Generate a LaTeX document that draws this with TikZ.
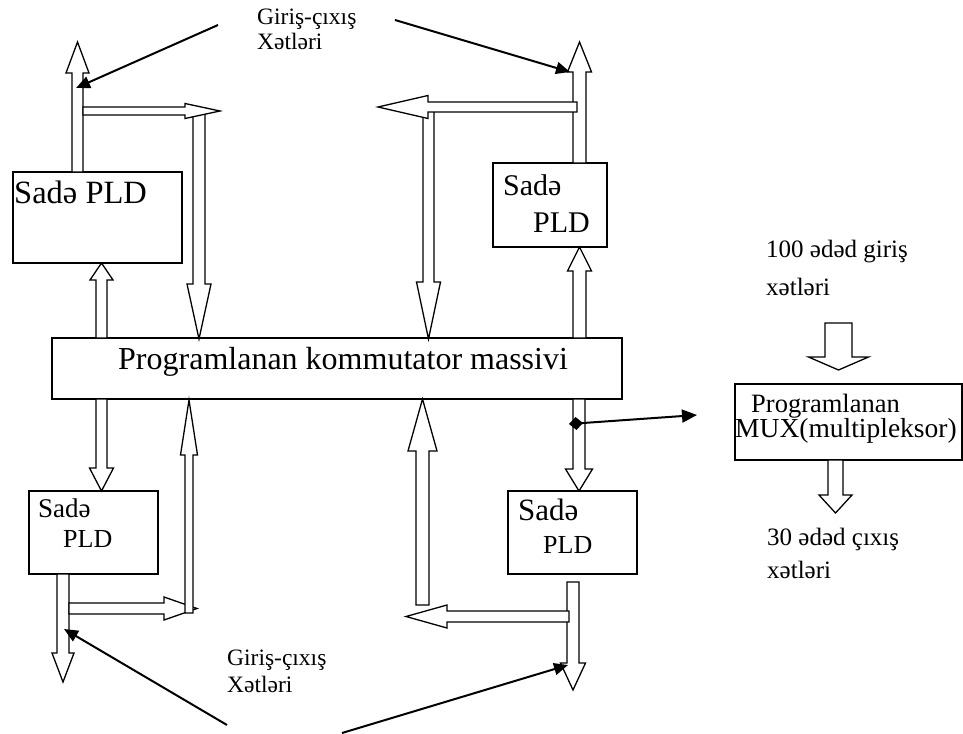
\documentclass[tikz,border=0pt]{standalone}
\usepackage{fontspec}
\setmainfont{Liberation Serif}
\usetikzlibrary{calc,arrows.meta,positioning}

\newcommand{\fs}[1]{\fontsize{#1}{#1}\selectfont}
% block arrow: start, tip, shaft half width, head half width, head length
\newcommand{\blockarr}[5]{%
  \coordinate (ba-s) at #1;
  \coordinate (ba-t) at #2;
  \coordinate (ba-b) at ($(ba-t)!#5!(ba-s)$);
  \draw[hollow] ($(ba-s)!#3!90:(ba-t)$) -- ($(ba-b)!#3!90:(ba-t)$)
    -- ($(ba-b)!#4!90:(ba-t)$) -- (ba-t) -- ($(ba-b)!#4!-90:(ba-t)$)
    -- ($(ba-b)!#3!-90:(ba-t)$) -- ($(ba-s)!#3!-90:(ba-t)$) -- cycle;
}

\begin{document}
\begin{tikzpicture}[x=1pt,y=-1pt,
  mybox/.style={draw,rectangle,line width=1.5pt,inner sep=0pt},
  lbl/.style={anchor=base west,inner sep=0pt},
  hollow/.style={draw,fill=white,line width=1.3pt,line join=miter},
  conn/.style={line width=2pt},
 ]
\useasboundingbox (0,0) rectangle (963,733);

% boxes
\node[mybox, minimum width=169pt, minimum height=91pt] (pld1) at (97.5,217.5) {};
\node[mybox, minimum width=114pt, minimum height=84pt] (pld2) at (550,205) {};
\node[mybox, minimum width=129pt, minimum height=83pt] (pld3) at (93.5,532.5) {};
\node[mybox, minimum width=129pt, minimum height=83pt] (pld4) at (572.5,532.5) {};
\node[mybox, minimum width=570pt, minimum height=61pt] (bar) at (337,368.5) {};
\node[mybox, minimum width=227pt, minimum height=76pt] (mux) at (848.5,422) {};

% texts
\node[lbl, font=\fs{32.5}] (pld1a) at (14,203) {Sadə PLD};
\node[lbl, font=\fs{30}] (pld2a) at (503,195) {Sadə};
\node[lbl, font=\fs{30}] (pld2b) at (533,232) {PLD};
\node[lbl, font=\fs{27}] (pld3a) at (38,517) {Sadə};
\node[lbl, font=\fs{26}] (pld3b) at (63,547) {PLD};
\node[lbl, font=\fs{31}] (pld4a) at (518,520) {Sadə};
\node[lbl, font=\fs{26}] (pld4b) at (543,553) {PLD};
\node[lbl, font=\fs{32}] (bara) at (118,369) {Programlanan kommutator massivi};
\node[lbl, font=\fs{26.5}] (muxa) at (751,412) {Programlanan};
\node[lbl, font=\fs{27.5}] (muxb) at (735,437) {MUX(multipleksor)};
\node[lbl, font=\fs{23.5}] (io1a) at (257,25) {Giriş-çıxış};
\node[lbl, font=\fs{23.5}] (io1b) at (257,50) {Xətləri};
\node[lbl, font=\fs{23.5}] (io2a) at (227,665) {Giriş-çıxış};
\node[lbl, font=\fs{23.5}] (io2b) at (227,692) {Xətləri};
\node[lbl, font=\fs{25}] (ina) at (766,257) {100 ədəd giriş};
\node[lbl, font=\fs{25}] (inb) at (766,295) {xətləri};
\node[lbl, font=\fs{25}] (outa) at (767,545) {30 ədəd çıxış};
\node[lbl, font=\fs{25}] (outb) at (767,578) {xətləri};

% top left
\blockarr{(77.5,172)}{(77.5,42)}{5.5pt}{11.5pt}{31pt}
\blockarr{(199,108)}{(199,339)}{6pt}{12pt}{55pt}
\blockarr{(83,111)}{(220,111)}{4pt}{7.5pt}{35pt}
\blockarr{(101.5,338)}{(101.5,263)}{5.5pt}{11.5pt}{17pt}

% top right
\blockarr{(579.5,163)}{(579.5,42)}{6.5pt}{12pt}{30pt}
\blockarr{(428.5,108)}{(428.5,339)}{5.5pt}{12pt}{57pt}
\blockarr{(577,107)}{(378,107)}{5pt}{11.5pt}{50pt}
\blockarr{(579.5,338)}{(579.5,247)}{6.5pt}{12pt}{24pt}

% bottom left
\blockarr{(101.5,399)}{(101.5,491)}{5.5pt}{12pt}{23pt}
\blockarr{(63,574)}{(63,682)}{6pt}{11pt}{29pt}
\blockarr{(69,608.5)}{(197,608.5)}{5.5pt}{11.5pt}{33pt}
\blockarr{(189,613)}{(189,400)}{4pt}{8.5pt}{55pt}

% bottom right
\blockarr{(579,399)}{(579,491)}{6pt}{13.5pt}{22pt}
\blockarr{(573,582)}{(573,690)}{6pt}{12.5pt}{27pt}
\blockarr{(569,616.5)}{(406,616.5)}{5.5pt}{11.5pt}{41pt}
\blockarr{(422.5,605)}{(422.5,399)}{6.5pt}{14.5pt}{52pt}

% mux
\blockarr{(838.5,323)}{(838.5,370)}{13.5pt}{30pt}{13pt}
\blockarr{(835.5,460)}{(835.5,513)}{7.5pt}{16.5pt}{18pt}

% pointers
\coordinate (p1s) at (218,25);
\coordinate (p1t) at (76,88);
\coordinate (p2s) at (395,20);
\coordinate (p2t) at (570,72);
\coordinate (p3s) at (227,725);
\coordinate (p3t) at (64,629);
\coordinate (p4s) at (342,733);
\coordinate (p4t) at (568,665);
\coordinate (dm) at (569,424);
\coordinate (muxin) at (697,415);

\draw[conn, -{Triangle[length=14pt,width=12pt]}] (p1s) -- (p1t);
\draw[conn, -{Triangle[length=14pt,width=12pt]}] (p2s) -- (p2t);
\draw[conn, -{Triangle[length=14pt,width=12pt]}] (p3s) -- (p3t);
\draw[conn, -{Triangle[length=14pt,width=12pt]}] (p4s) -- (p4t);
\draw[conn, {Diamond[length=14pt,width=13pt]}-{Triangle[length=15pt,width=13pt]}] (dm) -- (muxin);

\end{tikzpicture}
\end{document}
